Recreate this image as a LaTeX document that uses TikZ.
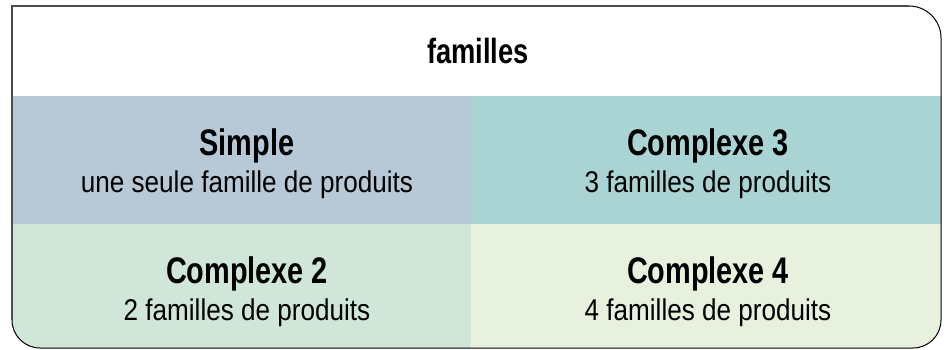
\documentclass[tikz,border=0pt]{standalone}
\usepackage{fontspec}
\usepackage{tikz}
\newfontfamily\headfont[FakeStretch=0.78]{Liberation Sans}
\newfontfamily\bodyfont[FakeStretch=0.87]{Liberation Sans}
\definecolor{simplefill}{HTML}{B7C9D6}
\definecolor{cxthreefill}{HTML}{AAD3D3}
\definecolor{cxtwofill}{HTML}{CFE6D9}
\definecolor{cxfourfill}{HTML}{E8F1DE}
\tikzset{
  headtext/.style={font=\headfont\bfseries\fontsize{35}{40}\selectfont, anchor=base, inner sep=0pt},
  celltitle/.style={font=\headfont\bfseries\fontsize{37}{42}\selectfont, anchor=base, inner sep=0pt},
  cellsub/.style={font=\bodyfont\fontsize{30}{34}\selectfont, anchor=base, inner sep=0pt},
}
\def\outline{(12,343) -- (909,343) arc[start angle=90, end angle=0, radius=32]
  -- (941,29) arc[start angle=0, end angle=-90, radius=28]
  -- (40,1) arc[start angle=270, end angle=180, radius=28] -- cycle}

\begin{document}
\begin{tikzpicture}[x=1pt, y=1pt]
    \useasboundingbox (0,0) rectangle (946,349);
    % Cells
    \begin{scope}
      \clip \outline;
      \fill[simplefill] (0,125) rectangle (471,253);
      \fill[cxthreefill] (471,125) rectangle (946,253);
      \fill[cxtwofill] (0,0) rectangle (471,125);
      \fill[cxfourfill] (471,0) rectangle (946,125);
    \end{scope}

    % Frame
    \draw[black, line width=1pt] \outline;
    \draw[black!70, line width=2pt, miter limit=10] (12,29) -- (12,343) -- (909,343);

    % Texts
    \node[headtext] (familles) at (478,286) {familles};
    \node[celltitle] (simple) at (247,194) {Simple};
    \node[cellsub] (simplesub) at (247,157) {une seule famille de produits};
    \node[celltitle] (cxthree) at (708,194) {Complexe 3};
    \node[cellsub] (cxthreesub) at (708,157) {3 familles de produits};
    \node[celltitle] (cxtwo) at (247,66) {Complexe 2};
    \node[cellsub] (cxtwosub) at (247,29) {2 familles de produits};
    \node[celltitle] (cxfour) at (708,66) {Complexe 4};
    \node[cellsub] (cxfoursub) at (708,29) {4 familles de produits};
  \end{tikzpicture}
\end{document}
